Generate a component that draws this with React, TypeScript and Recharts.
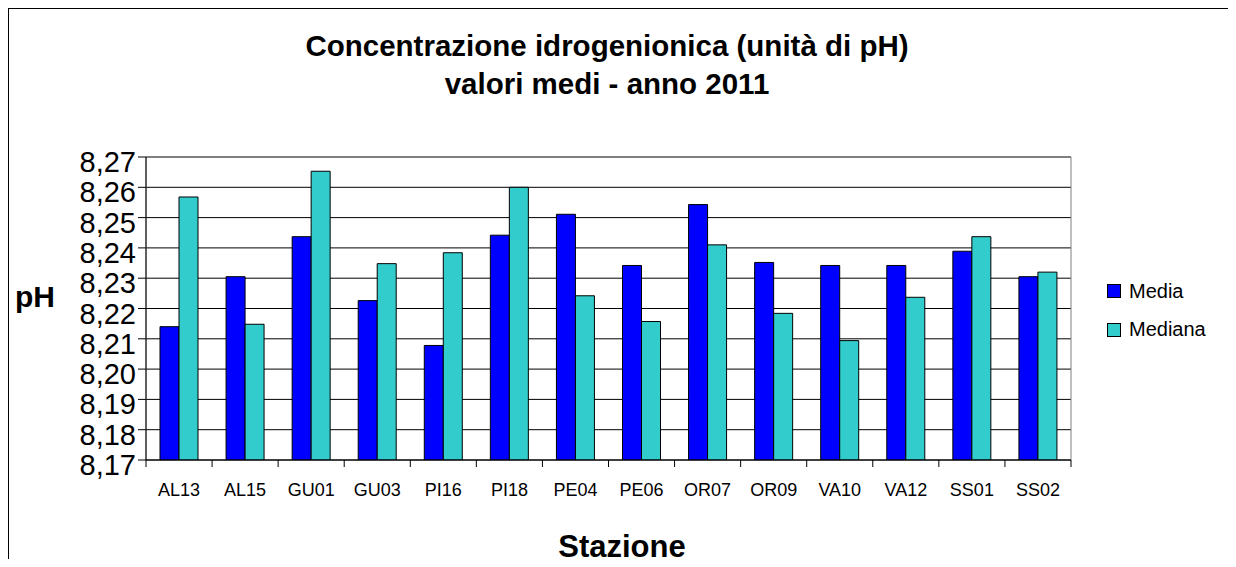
import React from 'react';
import { BarChart, Bar, XAxis, YAxis, CartesianGrid, Legend, ReferenceArea } from 'recharts';

const stations = ['AL13', 'AL15', 'GU01', 'GU03', 'PI16', 'PI18', 'PE04', 'PE06', 'OR07', 'OR09', 'VA10', 'VA12', 'SS01', 'SS02'];
const media = [8.214, 8.2305, 8.2437, 8.2226, 8.2078, 8.2442, 8.2511, 8.2342, 8.2543, 8.2352, 8.2342, 8.2342, 8.2389, 8.2305];
const mediana = [8.2568, 8.2148, 8.2653, 8.2348, 8.2384, 8.26, 8.2242, 8.2157, 8.241, 8.2184, 8.2094, 8.2237, 8.2437, 8.232];
const yTicks = [8.17, 8.18, 8.19, 8.2, 8.21, 8.22, 8.23, 8.24, 8.25, 8.26, 8.27];

const titleLines = ['Concentrazione idrogenionica (unità di pH)', 'valori medi - anno 2011'];

const data = stations.map((s, i) => ({ station: s, media: media[i], mediana: mediana[i] }));

const FONT = '"Liberation Sans", Arial, sans-serif';
const W = 1227;
const H = 558;
const PLOT_W = 925;
const BAND = PLOT_W / stations.length;

const fmt = (v: number) => v.toFixed(2).replace('.', ',');

const YTick = ({ x, y, payload }: any) => (
  <text x={x - 2} y={y + 15} textAnchor="end" fontFamily={FONT} fontSize={29} fill="#000">
    {fmt(payload.value)}
  </text>
);

const XTick = ({ x, y, payload, index }: any) => {
  const top = y - 7;
  return (
    <g>
      <line x1={x - BAND / 2} x2={x - BAND / 2} y1={top} y2={top + 7} stroke="#000" />
      {index === stations.length - 1 && (
        <line x1={x + BAND / 2} x2={x + BAND / 2} y1={top} y2={top + 7} stroke="#000" />
      )}
      <text x={x} y={y + 29} textAnchor="middle" fontFamily={FONT} fontSize={18} fill="#000">
        {payload.value}
      </text>
    </g>
  );
};

const LegendBox = () => (
  <svg width={130} height={80}>
    <rect x={0.5} y={5.5} width={13} height={13} fill="#0000FF" stroke="#000" />
    <text x={22} y={19} fontFamily={FONT} fontSize={20} fill="#000">Media</text>
    <rect x={0.5} y={44.5} width={13} height={13} fill="#33CCCC" stroke="#000" />
    <text x={22} y={57} fontFamily={FONT} fontSize={20} fill="#000">Mediana</text>
  </svg>
);

export default function App() {
  return (
    <div
      style={{
        position: 'relative',
        width: 1228,
        height: 559,
        marginBottom: -8,
        boxSizing: 'border-box',
        borderLeft: '1px solid #000',
        borderTop: '1px solid #000',
        background: '#fff',
      }}
    >
      <BarChart
        width={W}
        height={H}
        data={data}
        margin={{ top: 148, right: 165, left: 0, bottom: 0 }}
        barSize={19}
        barGap={0}
      >
        <CartesianGrid vertical={false} stroke="#000" />
        <ReferenceArea y1={8.17} y2={8.27} fill="none" stroke="#808080" />
        <XAxis
          dataKey="station"
          height={107}
          tickSize={7}
          tickMargin={0}
          tickLine={false}
          axisLine={{ stroke: '#000' }}
          tick={<XTick />}
          interval={0}
        />
        <YAxis
          type="number"
          width={137}
          domain={[8.17, 8.27]}
          ticks={yTicks}
          allowDataOverflow
          tickSize={8}
          tickMargin={0}
          tickLine={{ stroke: '#000' }}
          axisLine={{ stroke: '#000' }}
          tick={<YTick />}
          interval={0}
        />
        <Legend
          layout="vertical"
          align="center"
          verticalAlign="middle"
          wrapperStyle={{ left: 1098, top: 270, width: 130 }}
          content={() => <LegendBox />}
        />
        <Bar dataKey="media" name="Media" fill="#0000FF" stroke="#000" strokeWidth={1} isAnimationActive={false} />
        <Bar dataKey="mediana" name="Mediana" fill="#33CCCC" stroke="#000" strokeWidth={1} isAnimationActive={false} />
      </BarChart>
      <svg
        width={W}
        height={H}
        style={{ position: 'absolute', left: 0, top: 0, pointerEvents: 'none' }}
      >
        <text x={598} y={47} textAnchor="middle" fontFamily={FONT} fontWeight="bold" fontSize={29.5} fill="#000">
          {titleLines[0]}
        </text>
        <text x={598} y={85} textAnchor="middle" fontFamily={FONT} fontWeight="bold" fontSize={29.5} fill="#000">
          {titleLines[1]}
        </text>
        <text x={6} y={298} fontFamily={FONT} fontWeight="bold" fontSize={30} fill="#000">
          pH
        </text>
        <text x={613} y={548} textAnchor="middle" fontFamily={FONT} fontWeight="bold" fontSize={31} fill="#000">
          Stazione
        </text>
      </svg>
    </div>
  );
}
